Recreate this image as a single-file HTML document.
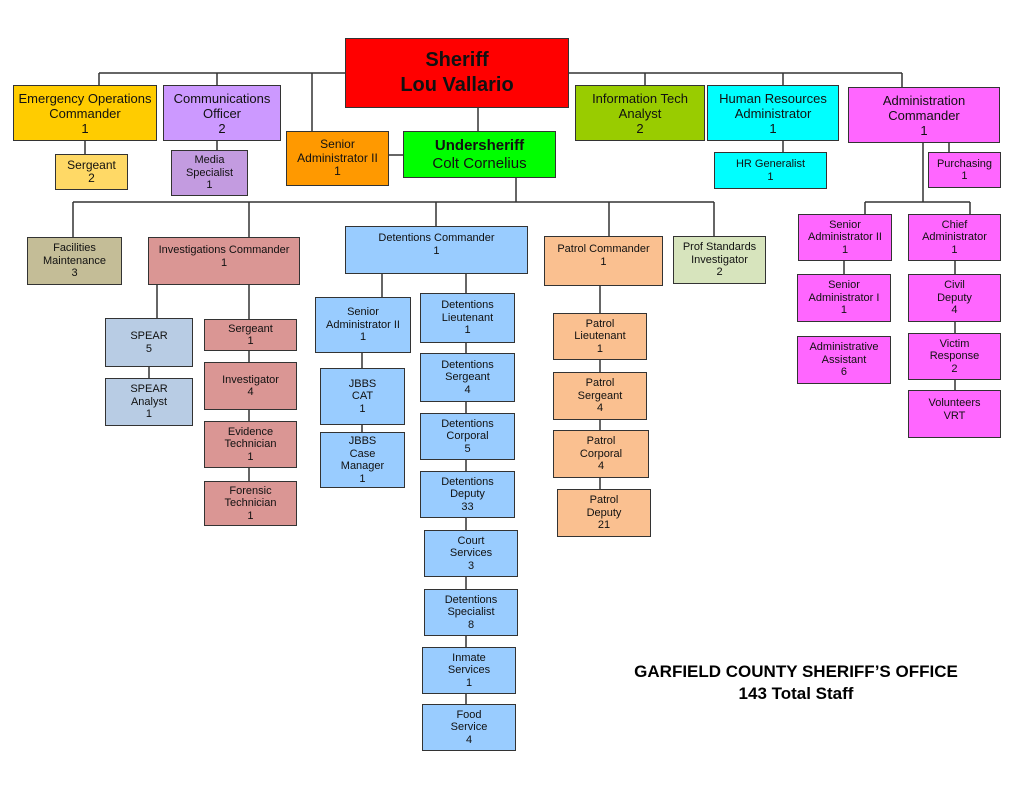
<!DOCTYPE html>
<html><head><meta charset="utf-8"><style>
body{margin:0;width:1023px;height:788px;background:#fff;position:relative;overflow:hidden;font-family:"Liberation Sans",Arial,sans-serif;}
.b{position:absolute;box-sizing:border-box;border:1.5px solid #333;display:flex;align-items:center;justify-content:center;text-align:center;font-size:11px;line-height:12.5px;color:#111;}
.t{align-items:flex-start;padding-top:6px;}
.m{font-size:13px;line-height:15px;}
svg{position:absolute;left:0;top:0;}
.title{position:absolute;left:596px;width:400px;text-align:center;font-weight:bold;font-size:17px;}
</style></head><body>
<svg width="1023" height="788"><g stroke="#333" stroke-width="1.5" fill="none">
<path d="M99 73H902M99 73V85M217 73V85M312 73V131M645 73V85M783 73V85M902 73V87"/>
<path d="M478 108V131M389 155H403M85 141V154M217 141V150M783 141V152M949 143V152"/>
<path d="M923 143V202M865 202H970M865 202V214M970 202V214M844 261V274M955 261V274M955 322V333M955 380V390"/>
<path d="M516 178V202M73 202H714M73 202V237M249 202V237M436 202V226M609 202V236M714 202V236"/>
<path d="M157 285V318M249 285V319M149 367V378M249 351V481"/>
<path d="M382 274V297M466 274V293M362 353V432M466 343V704"/>
<path d="M600 286V489"/>
</g></svg>
<div class="b" style="left:345px;top:38px;width:224px;height:70px;background:#ff0000;font-size:20px;line-height:25px;font-weight:bold;">Sheriff<br>Lou Vallario</div>
<div class="b m" style="left:13px;top:85px;width:144px;height:56px;background:#ffcc00;">Emergency Operations<br>Commander<br>1</div>
<div class="b m" style="left:163px;top:85px;width:118px;height:56px;background:#cc99ff;">Communications<br>Officer<br>2</div>
<div class="b m" style="left:575px;top:85px;width:130px;height:56px;background:#99cc00;">Information Tech<br>Analyst<br>2</div>
<div class="b m" style="left:707px;top:85px;width:132px;height:56px;background:#00ffff;">Human Resources<br>Administrator<br>1</div>
<div class="b m" style="left:848px;top:87px;width:152px;height:56px;background:#ff66ff;">Administration<br>Commander<br>1</div>
<div class="b" style="left:286px;top:131px;width:103px;height:55px;background:#ff9900;font-size:12px;line-height:13.5px;">Senior<br>Administrator II<br>1</div>
<div class="b" style="left:403px;top:131px;width:153px;height:47px;background:#00ff00;font-size:15px;line-height:18px;"><span><b>Undersheriff</b><br>Colt Cornelius</span></div>
<div class="b" style="left:55px;top:154px;width:73px;height:36px;background:#ffd966;font-size:12px;line-height:13px;">Sergeant<br>2</div>
<div class="b" style="left:171px;top:150px;width:77px;height:46px;background:#c39be0;">Media<br>Specialist<br>1</div>
<div class="b" style="left:714px;top:152px;width:113px;height:37px;background:#00ffff;">HR Generalist<br>1</div>
<div class="b" style="left:928px;top:152px;width:73px;height:36px;background:#ff66ff;">Purchasing<br>1</div>

<div class="b" style="left:798px;top:214px;width:94px;height:47px;background:#ff66ff;">Senior<br>Administrator II<br>1</div>
<div class="b" style="left:908px;top:214px;width:93px;height:47px;background:#ff66ff;">Chief<br>Administrator<br>1</div>
<div class="b" style="left:797px;top:274px;width:94px;height:48px;background:#ff66ff;">Senior<br>Administrator I<br>1</div>
<div class="b" style="left:908px;top:274px;width:93px;height:48px;background:#ff66ff;">Civil<br>Deputy<br>4</div>
<div class="b" style="left:797px;top:336px;width:94px;height:48px;background:#ff66ff;">Administrative<br>Assistant<br>6</div>
<div class="b" style="left:908px;top:333px;width:93px;height:47px;background:#ff66ff;">Victim<br>Response<br>2</div>
<div class="b t" style="left:908px;top:390px;width:93px;height:48px;background:#ff66ff;">Volunteers<br>VRT</div>

<div class="b" style="left:27px;top:237px;width:95px;height:48px;background:#c4bd97;">Facilities<br>Maintenance<br>3</div>
<div class="b t" style="left:148px;top:237px;width:152px;height:48px;background:#da9694;">Investigations Commander<br>1</div>
<div class="b t" style="left:345px;top:226px;width:183px;height:48px;background:#99ccff;padding-top:5px;">Detentions Commander<br>1</div>
<div class="b t" style="left:544px;top:236px;width:119px;height:50px;background:#fac090;">Patrol Commander<br>1</div>
<div class="b" style="left:673px;top:236px;width:93px;height:48px;background:#d7e4bd;">Prof Standards<br>Investigator<br>2</div>

<div class="b" style="left:105px;top:318px;width:88px;height:49px;background:#b8cce4;">SPEAR<br>5</div>
<div class="b" style="left:105px;top:378px;width:88px;height:48px;background:#b8cce4;">SPEAR<br>Analyst<br>1</div>
<div class="b" style="left:204px;top:319px;width:93px;height:32px;background:#da9694;">Sergeant<br>1</div>
<div class="b" style="left:204px;top:362px;width:93px;height:48px;background:#da9694;">Investigator<br>4</div>
<div class="b" style="left:204px;top:421px;width:93px;height:47px;background:#da9694;">Evidence<br>Technician<br>1</div>
<div class="b" style="left:204px;top:481px;width:93px;height:45px;background:#da9694;">Forensic<br>Technician<br>1</div>

<div class="b" style="left:315px;top:297px;width:96px;height:56px;background:#99ccff;">Senior<br>Administrator II<br>1</div>
<div class="b" style="left:320px;top:368px;width:85px;height:57px;background:#99ccff;">JBBS<br>CAT<br>1</div>
<div class="b" style="left:320px;top:432px;width:85px;height:56px;background:#99ccff;">JBBS<br>Case<br>Manager<br>1</div>
<div class="b" style="left:420px;top:293px;width:95px;height:50px;background:#99ccff;">Detentions<br>Lieutenant<br>1</div>
<div class="b" style="left:420px;top:353px;width:95px;height:49px;background:#99ccff;">Detentions<br>Sergeant<br>4</div>
<div class="b" style="left:420px;top:413px;width:95px;height:47px;background:#99ccff;">Detentions<br>Corporal<br>5</div>
<div class="b" style="left:420px;top:471px;width:95px;height:47px;background:#99ccff;">Detentions<br>Deputy<br>33</div>
<div class="b" style="left:424px;top:530px;width:94px;height:47px;background:#99ccff;">Court<br>Services<br>3</div>
<div class="b" style="left:424px;top:589px;width:94px;height:47px;background:#99ccff;">Detentions<br>Specialist<br>8</div>
<div class="b" style="left:422px;top:647px;width:94px;height:47px;background:#99ccff;">Inmate<br>Services<br>1</div>
<div class="b" style="left:422px;top:704px;width:94px;height:47px;background:#99ccff;">Food<br>Service<br>4</div>

<div class="b" style="left:553px;top:313px;width:94px;height:47px;background:#fac090;">Patrol<br>Lieutenant<br>1</div>
<div class="b" style="left:553px;top:372px;width:94px;height:48px;background:#fac090;">Patrol<br>Sergeant<br>4</div>
<div class="b" style="left:553px;top:430px;width:96px;height:48px;background:#fac090;">Patrol<br>Corporal<br>4</div>
<div class="b" style="left:557px;top:489px;width:94px;height:48px;background:#fac090;">Patrol<br>Deputy<br>21</div>

<div class="title" style="top:662px;">GARFIELD COUNTY SHERIFF’S OFFICE</div>
<div class="title" style="top:684px;">143 Total Staff</div>
</body></html>
